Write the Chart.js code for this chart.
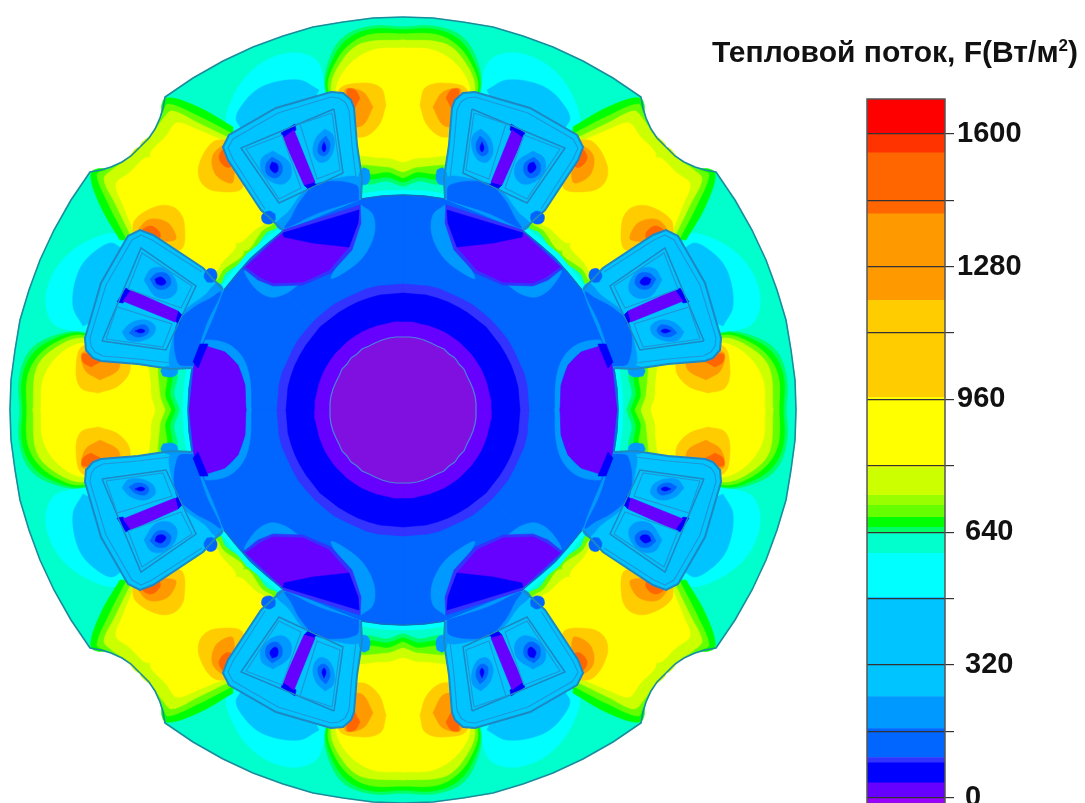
<!DOCTYPE html>
<html lang="ru">
<head>
<meta charset="utf-8">
<title>Тепловой поток</title>
<script src="https://cdn.jsdelivr.net/npm/chart.js@4"></script>
<style>
    html, body { margin: 0; padding: 0; background: #fff; overflow: hidden; }
    #page { position: relative; width: 1085px; height: 803px; overflow: hidden; }
    #fieldChart { position: absolute; left: 0; top: 0; }
    #scaleChart { position: absolute; left: 860px; top: 0; }
    #title { position: absolute; left: 712px; top: 35px; white-space: nowrap; color: #111;
             font: bold 30px "Liberation Sans", Arial, sans-serif; }
    #title sup { font-size: 17px; line-height: 0; }
</style>
</head>
<body>
<div id="page">
    <canvas id="fieldChart" width="1085" height="803"></canvas>
    <canvas id="scaleChart" width="225" height="824"></canvas>
    <div id="title">Тепловой поток, F(Вт/м<sup>2</sup>)</div>
</div>
<script>
// Colour scale (flux, W/m2)
const bandEdges = [-14, 0, 36, 84, 97, 167, 244, 483, 589, 637, 652, 676, 705, 729, 796, 965, 1199, 1407, 1554, 1600, 1684];
const bandColors = ['#9900ff', '#6600ff', '#0000ff', '#3333ff', '#0066ff', '#0099ff', '#00c4ff', '#00ffff', '#00ffcc', '#00ff66',
    '#00ff00', '#66ff00', '#99ff00', '#ccff00', '#ffff00', '#ffcc00', '#ff9900', '#ff6600', '#ff3300', '#ff0000'];
const scaleTicks = [0, 160, 320, 480, 640, 800, 960, 1120, 1280, 1440, 1600];
const scaleLabels = [' 0', '', ' 320', '', ' 640', '', '960', '', '1280', '', '1600'];

// Contours of one octant of the section, x/y measured from the shaft centre
const statorEdge = [[0, 393], [30, 392], [60, 388], [90, 383], [120, 374], [150, 363], [180, 349], [210, 332], [238, 313],
    [240, 302], [243, 292], [248, 281], [254, 272], [263, 263]];
const statorFill = [[0, 0]].concat(statorEdge);
const backCyan = [[77, 323], [87, 350], [114, 357], [147, 343], [170, 313], [174, 283], [100, 250]];
const backBlue = [[84, 320], [104, 330], [137, 325], [157, 310], [166, 288], [120, 250]];

const topGreen = [[-2, 383], [30, 384], [57, 375], [72, 355], [78, 322], [60, 280], [50, 238], [36, 226], [17, 229], [-2, 226]];
const topPure = [[-2, 380], [30, 381], [54, 372], [69, 353], [77, 322], [60, 280], [50, 240], [35, 231], [16, 233], [-2, 230]];
const topLime = [[-2, 376], [30, 376], [50, 368], [66, 350], [75, 322], [60, 280], [50, 242], [34, 236], [15, 238], [-2, 234]];
const topPale = [[-2, 370], [40, 367], [59, 352], [72, 322], [60, 280], [50, 248], [34, 245], [14, 243], [-2, 240]];
const topYellow = [[-2, 362], [30, 360], [54, 345], [67, 320], [60, 280], [50, 258], [30, 253], [14, 252], [-2, 250]];
const topGold = [[17, 305], [22, 322], [40, 327], [64, 320], [60, 280], [40, 273], [24, 285]];
const topOrange = [[30, 303], [40, 318], [58, 320], [52, 285], [40, 285]];
const topDark = [[43, 312], [48, 320], [56, 320], [52, 298]];

const gapGreen = [[170, 283], [205, 303], [237, 312], [240, 297], [205, 280], [172, 268]];
const gapLime = [[172, 277], [205, 294], [235, 306], [240, 297], [246, 284], [256, 268], [261, 262], [157, 157], [136, 178], [126, 184], [150, 230]];
const gapPale = [[174, 272], [205, 287], [231, 299], [240, 291], [249, 278], [262, 262], [160, 160], [140, 180], [130, 188], [150, 230]];
const gapYellow = [[176, 268], [205, 280], [226, 287], [236, 275], [252, 252], [168, 168], [146, 182], [136, 190], [150, 230]];
const gapGold = [[170, 270], [190, 268], [204, 245], [202, 228], [188, 219], [160, 223]];
const gapOrange = [[172, 270], [190, 255], [187, 235], [170, 228]];
const gapDark = [[172, 264], [179, 262], [184, 252], [177, 243], [170, 245]];

const rotorHalo = [[0, 0], [0, 220], [22, 219], [43, 216], [64, 211], [84, 203], [104, 194], [122, 183], [139, 170], [156, 156]];
const rotorEdge = [[0, 215], [21, 214], [42, 211], [62, 206], [82, 199], [101, 190], [120, 179], [136, 166], [152, 152]];
const rotorFill = [[0, 0]].concat(rotorEdge);

const poleFill = [[42, 211], [41, 232], [46, 265], [49, 302], [52, 310], [60, 317], [72, 318], [127, 302], [174, 275], [180, 263], [175, 250], [142, 200], [120, 180]];
const poleInner = [[47, 232], [51, 265], [54, 300], [58, 308], [64, 312], [72, 313], [125, 297], [170, 271], [175, 262], [170, 251], [138, 201]];
const neckLight = [[42, 212], [43, 232], [64, 232], [97, 220], [115, 198], [127, 186], [120, 180]];
const neckDark = [[44, 210], [47, 225], [84, 227], [102, 210], [112, 192], [118, 182], [85, 197]];
const bumpLeft = [[34, 240], [40, 242], [44, 235], [42, 226], [36, 226], [33, 232]];
const bumpRight = [[128, 196], [134, 199], [141, 195], [140, 188], [133, 186], [128, 190]];

const frame = [[69, 301], [162, 262], [124, 207], [60, 237], [69, 301]];
const windowLeft = [[71, 297], [103, 286], [86, 231], [63, 240], [71, 297]];
const windowRight = [[121, 275], [157, 261], [124, 211], [102, 222], [121, 275]];
const eyeOuterLeft = [[78, 281], [87, 272], [90, 258], [84, 248], [75, 250], [69, 262], [70, 275]];
const eyeMidLeft = [[77, 274], [83, 268], [85, 258], [80, 254], [75, 257], [73, 266]];
const eyeCoreLeft = [[79, 268], [81, 262], [79, 258], [77, 262]];
const eyeOuterRight = [[130, 259], [141, 252], [142, 240], [133, 229], [120, 226], [112, 234], [114, 248]];
const eyeMidRight = [[131, 253], [137, 246], [136, 236], [127, 232], [121, 238], [122, 247]];
const eyeCoreRight = [[131, 248], [133, 242], [128, 237], [125, 240], [126, 246]];
const barBody = [[109, 280], [120, 272], [99, 225], [88, 228]];
const barCapTop = [[108, 286], [122, 277], [119, 272], [107, 280]];
const barCapLow = [[89, 228], [99, 225], [95, 221], [86, 224]];

// Cold spots in the rotor: these repeat four times only
const coldRingA = [[42, 205], [30, 195], [29, 175], [40, 153], [58, 138], [72, 132], [54, 163], [45, 187]];
const coldRingB = [[105, 125], [118, 116], [133, 113], [148, 122], [158, 140], [130, 128]];
const coldRimA = [[43, 205], [42, 187], [51, 160], [72, 137], [100, 125], [130, 124], [145, 130], [160, 142], [120, 180]];
const coldA = [[44, 200], [45, 187], [54, 163], [74, 140], [100, 128], [130, 127], [143, 133], [157, 143], [120, 177]];
const coldBlueA = [[44, 200], [45, 187], [54, 163], [90, 167], [119, 173], [120, 177]];
const coldRingC = [[152, -2], [153, 30], [160, 52], [175, 66], [197, 70], [198, 64], [178, 58], [165, 45], [158, 25], [157, -2]];
const coldC = [[157, -2], [158, 25], [165, 45], [178, 58], [197, 64], [209, 45], [214, -2]];
const coldBlueC = [[195, 66], [203, 66], [210, 48], [205, 42]];

const shaftRing = [[0, 0], [0, 126], [12, 125], [25, 124], [37, 121], [48, 116], [59, 111], [70, 105], [80, 97], [89, 89]];
const shaftDark = [[0, 0], [0, 117], [11, 116], [23, 115], [34, 112], [45, 108], [55, 103], [65, 97], [74, 90], [83, 83]];
const shaftMid = [[0, 0], [0, 88], [9, 88], [17, 86], [26, 84], [34, 81], [41, 78], [49, 73], [56, 68], [62, 62]];
const shaftEdge = [[0, 73], [7, 73], [14, 72], [21, 70], [28, 67], [34, 64], [41, 61], [46, 56], [52, 52]];
const shaftCore = [[0, 0]].concat(shaftEdge);

// Contours that get rounded by the spline
const roundShapes = [backCyan, backBlue, topGreen, topPure, topLime, topPale, topYellow, topGold, topOrange, topDark,
    gapGreen, gapLime, gapPale, gapYellow, gapGold, gapOrange, gapDark, neckLight, neckDark, bumpLeft, bumpRight,
    eyeOuterLeft, eyeMidLeft, eyeCoreLeft, eyeOuterRight, eyeMidRight, eyeCoreRight,
    coldRingA, coldRingB, coldRingC];

// Paint order, bottom first: [flux, contour, mirror images]
const regions = [
    [610, statorFill, 8], [530, backCyan, 8], [360, backBlue, 8],
    [645, topGreen, 8], [665, topPure, 8], [690, topLime, 8], [760, topPale, 8], [880, topYellow, 8],
    [1080, topGold, 8], [1300, topOrange, 8], [1480, topDark, 8],
    [665, gapGreen, 8], [690, gapLime, 8], [760, gapPale, 8], [880, gapYellow, 8],
    [1080, gapGold, 8], [1300, gapOrange, 8], [1480, gapDark, 8],
    [530, rotorHalo, 8], [130, rotorFill, 8],
    [360, poleFill, 8], [200, neckLight, 8], [130, neckDark, 8], [200, bumpLeft, 8], [130, bumpRight, 8],
    [360, windowLeft, 8], [360, windowRight, 8],
    [200, eyeOuterLeft, 8], [130, eyeMidLeft, 8], [60, eyeCoreLeft, 8],
    [200, eyeOuterRight, 8], [130, eyeMidRight, 8], [60, eyeCoreRight, 8],
    [60, barCapTop, 8], [60, barCapLow, 8], [18, barBody, 8],
    [200, coldRingA, 4], [200, coldRingB, 4], [200, coldRingC, 4],
    [90, coldRimA, 4], [18, coldA, 4], [60, coldBlueA, 4], [18, coldC, 4], [60, coldBlueC, 4],
    [90, shaftRing, 8], [60, shaftDark, 8], [18, shaftMid, 8], [8, shaftCore, 8]
];

// Drawn lines of the section: [contour, colour, width]
const edges = [
    [statorEdge, '#1c8c9c', 1.6], [rotorEdge.slice(0, 3), '#1270c0', 1.4], [rotorEdge.slice(6), '#1270c0', 1.4],
    [poleFill, '#1c88c4', 2], [poleInner, '#1c98d8', 1.2],
    [frame, '#1c88c4', 1.5], [windowLeft, '#1c98d8', 1.2], [windowRight, '#1c98d8', 1.2],
    [shaftEdge, '#4a80e0', 1.2]
];

function colorOf(flux) {
    if (flux < 12) return '#7f10e0';    // dithered purple of the coldest zones
    let i = bandEdges.findIndex(function(edge) { return edge > flux; });
    return bandColors[i - 1];
}

function mirrored(points, count) {
    const images = [[1, 1, false], [-1, 1, false], [1, -1, false], [-1, -1, false],
        [1, 1, true], [-1, 1, true], [1, -1, true], [-1, -1, true]];
    return images.slice(0, count).map(function(img) {
        return points.map(function(p) {
            const x = img[2] ? p[1] : p[0];
            const y = img[2] ? p[0] : p[1];
            return { x: x * img[0], y: y * img[1] };
        });
    });
}

document.addEventListener('DOMContentLoaded', function() {
    const datasets = [];
    regions.forEach(function(r) {
        const tension = roundShapes.includes(r[1]) ? 0.35 : 0;
        mirrored(r[1], r[2]).forEach(function(data) {
            const color = colorOf(r[0]);
            datasets.push({ data: data.concat([data[0]]), showLine: true, fill: 'shape', tension: tension,
                backgroundColor: color, borderColor: color, borderWidth: 0.6, pointRadius: 0 });
        });
    });
    edges.forEach(function(e) {
        mirrored(e[0], 8).forEach(function(data) {
            datasets.push({ data: data, showLine: true, fill: false, tension: 0,
                borderColor: e[1], borderWidth: e[2], pointRadius: 0 });
        });
    });

    // Chart.js paints the first dataset last, so flip the list
    new Chart(document.getElementById('fieldChart'), {
        type: 'scatter',
        data: { datasets: datasets.reverse() },
        options: {
            responsive: false,
            animation: false,
            layout: { padding: 0 },
            plugins: { legend: { display: false }, tooltip: { enabled: false } },
            scales: {
                x: { type: 'linear', display: false, min: -403, max: 682 },
                y: { type: 'linear', display: false, min: -393, max: 410 }
            }
        }
    });

    // Frame round the colour bar
    const barFrame = {
        id: 'barFrame',
        afterDraw: function(chart) {
            const a = chart.chartArea;
            chart.ctx.save();
            chart.ctx.strokeStyle = '#555';
            chart.ctx.lineWidth = 1.5;
            chart.ctx.strokeRect(a.left, a.top, a.right - a.left, a.bottom - a.top);
            chart.ctx.restore();
        }
    };

    new Chart(document.getElementById('scaleChart'), {
        type: 'bar',
        data: {
            labels: ['F'],
            datasets: bandColors.map(function(color, i) {
                return { data: [[bandEdges[i], bandEdges[i + 1]]], backgroundColor: color,
                    borderWidth: 0, barPercentage: 1, categoryPercentage: 1 };
            })
        },
        plugins: [barFrame],
        options: {
            responsive: false,
            animation: false,
            layout: { autoPadding: false, padding: { left: 7, top: 99, right: 0, bottom: 0 } },
            plugins: { legend: { display: false }, tooltip: { enabled: false } },
            scales: {
                x: { display: false, stacked: true },
                y: {
                    position: 'right',
                    min: bandEdges[0],
                    max: bandEdges[bandEdges.length - 1],
                    afterBuildTicks: function(axis) {
                        axis.ticks = scaleTicks.map(function(v) { return { value: v }; });
                    },
                    afterFit: function(axis) { axis.width = 140; },
                    grid: { color: '#333', lineWidth: 1.2, tickLength: 9, z: 1 },
                    border: { display: false },
                    ticks: {
                        autoSkip: false,
                        padding: 3,
                        color: '#111',
                        font: { family: '"Liberation Sans", Arial, sans-serif', weight: 'bold', size: 29 },
                        callback: function(value) {
                            return scaleLabels[scaleTicks.indexOf(value)];
                        }
                    }
                }
            }
        }
    });
});
</script>
</body>
</html>
